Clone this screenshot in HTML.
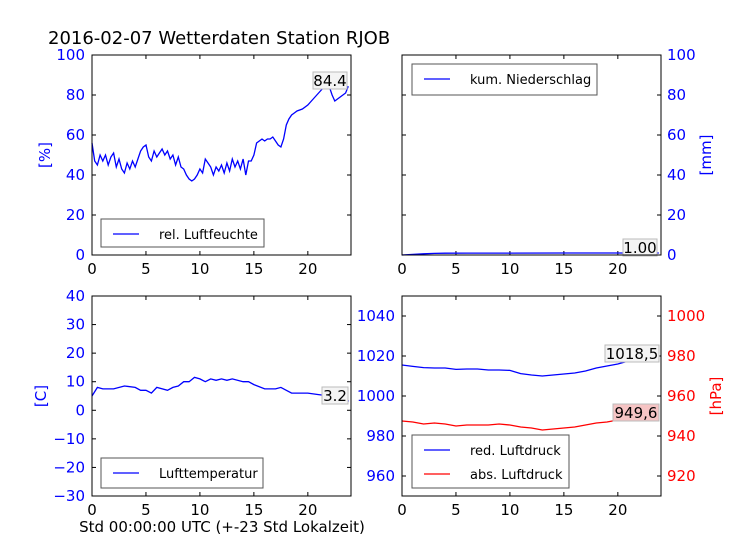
<!DOCTYPE html>
<html><head><meta charset="utf-8"><style>
body{margin:0;background:#fff}
svg{display:block;font-family:"DejaVu Sans","Liberation Sans",sans-serif}
</style></head><body>
<svg id="fig" width="736" height="552" viewBox="0 0 736 552">
<text x="48" y="44" font-size="18" fill="#000">2016-02-07 Wetterdaten Station RJOB</text>
<text x="222" y="532" font-size="15" text-anchor="middle">Std 00:00:00 UTC (+-23 Std Lokalzeit)</text>
</svg>
<script>
const humHours=[0,0.25,0.5,0.75,1,1.25,1.5,1.75,2,2.25,2.5,2.75,3,3.25,3.5,3.75,4,4.25,4.5,4.75,5,5.25,5.5,5.75,6,6.25,6.5,6.75,7,7.25,7.5,7.75,8,8.25,8.5,8.75,9,9.25,9.5,9.75,10,10.25,10.5,10.75,11,11.25,11.5,11.75,12,12.25,12.5,12.75,13,13.25,13.5,13.75,14,14.25,14.5,14.75,15,15.25,15.5,15.75,16,16.25,16.5,16.75,17,17.25,17.5,17.75,18,18.25,18.5,18.75,19,19.5,20,20.5,21,21.5,22,22.25,22.5,23,23.5,23.75];
const humValues=[56,47,45,50,47,50,45,49,51,44,48,43,41,46,43,47,44,48,52,54,55,49,47,52,49,51,53,50,52,48,50,45,49,44,43,40,38,37,38,40,43,41,48,46,44,40,44,42,45,41,46,42,48,44,47,43,48,40,47,47,50,56,57,58,57,58,58,59,57,55,54,58,65,68,70,71,72,73,75,78,81,84,84,80,77,79,81,84.4];
const precHours=[0,1,2,3,4,6,10,15,20,23.8];
const precValues=[0,0.3,0.6,0.8,0.9,0.95,0.97,0.98,1.0,1.0];
const tempHours=[0,0.5,1,2,3,4,4.5,5,5.5,6,7,7.5,8,8.5,9,9.5,10,10.5,11,11.5,12,12.5,13,14,14.5,15,16,17,17.5,18,18.5,19,20,21,22,23,23.8];
const tempValues=[5,8,7.5,7.5,8.5,8,7,7,6,8,7,8,8.5,10,10,11.5,11,10,11,10.5,11,10.5,11,10,10,9,7.5,7.5,8,7,6,6,6,5.5,5,4,3.2];
const presHours=[0,1,2,3,4,5,6,7,8,9,10,11,12,13,14,15,16,17,18,19,20,21,22,23,23.8];
const redPres=[1015.5,1014.8,1014.2,1014,1014,1013.3,1013.5,1013.5,1013,1013,1012.8,1011.2,1010.5,1010,1010.5,1011,1011.5,1012.5,1014,1015,1016,1017.5,1018,1018.5,1018.5];
const absPres=[947.5,947,946,946.5,946,945,945.5,945.5,945.5,946,945.5,944.5,944,943,943.5,944,944.5,945.5,946.5,947,948,949,949.5,949.6,949.6];
const xTicks=[0,5,10,15,20];
const humTicks=[0,20,40,60,80,100];
const precTicks=[0,20,40,60,80,100];
const tempTicks=[-30,-20,-10,0,10,20,30,40];
const redTicks=[960,980,1000,1020,1040];
const absTicks=[920,940,960,980,1000];

const NS="http://www.w3.org/2000/svg";
const svg=document.getElementById('fig');
function el(tag,attrs,parent){const e=document.createElementNS(NS,tag);for(const k in attrs)e.setAttribute(k,attrs[k]);(parent||svg).appendChild(e);return e;}
function txt(s,attrs,parent){const e=el('text',attrs,parent);e.textContent=s;return e;}

function panel(name,x0,y0,w,h,xmax){
  const g=el('g',{});
  
  
  const xs=v=>x0+v/xmax*w;
  xTicks.forEach(t=>{
    el('line',{x1:xs(t),x2:xs(t),y1:y0+h,y2:y0+h-4,stroke:'#000'},g);
    el('line',{x1:xs(t),x2:xs(t),y1:y0,y2:y0+4,stroke:'#000'},g);
    const l=txt(String(t),{x:xs(t),y:y0+h+19,'font-size':15,'text-anchor':'middle'},g);
    
    
  });
  return {g,xs,x0,y0,w,h};
}
function yaxis(p,min,max,ticks,side,color,labels){
  const ys=v=>p.y0+p.h-(v-min)/(max-min)*p.h;
  ticks.forEach(t=>{
    const xl=side==='left'?p.x0:p.x0+p.w;
    const d=side==='left'?4:-4;
    el('line',{x1:xl,x2:xl+d,y1:ys(t),y2:ys(t),stroke:'#000'},p.g);
    if(labels){
      const l=txt(String(t).replace('-','\u2212'),{x:side==='left'?xl-7:xl+6,y:ys(t)+5,'font-size':15,fill:color,'text-anchor':side==='left'?'end':'start'},p.g);
      
      
    }
  });
  return ys;
}
function line(p,xsArr,ysArr,xs,ys,color,name){
  const d=xsArr.map((h,i)=>(i?'L':'M')+xs(h).toFixed(1)+' '+ys(ysArr[i]).toFixed(1)).join('');
  const e=el('path',{d,fill:'none',stroke:color,'stroke-width':1.3},p.g);
  
  
}
function frame(p){el('rect',{x:p.x0,y:p.y0,width:p.w,height:p.h,fill:'none',stroke:'#000'},p.g);}
function legend(p,x,y,w,h,items,name){
  const g=el('g',{},p.g);
  
  
  el('rect',{x,y,width:w,height:h,fill:'#fff',stroke:'#555'},g);
  items.forEach((it,i)=>{
    const yy=y+15+i*24;
    el('line',{x1:x+12,x2:x+38,y1:yy,y2:yy,stroke:it[1],'stroke-width':1.3},g);
    txt(it[0],{x:x+58,y:yy+5,'font-size':13},g);
  });
}
function annot(p,s,x,y,w,bg,name){
  const g=el('g',{},p.g);
  
  
  el('rect',{x,y,width:w,height:17,fill:bg,stroke:'#bbb'},g);
  txt(s,{x:x+w/2,y:y+14,'font-size':15,'text-anchor':'middle'},g);
}
function ylabel(s,x,y,color,name){
  const t=txt(s,{x,y,'font-size':15,fill:color,'text-anchor':'middle',transform:`rotate(-90 ${x} ${y})`});
  
  
}

let p=panel('humidity-panel',92,55,259,200,24);
let ys=yaxis(p,0,100,humTicks,'left','#0000ff',true);
yaxis(p,0,100,humTicks,'right','#000',false);
line(p,humHours,humValues,p.xs,ys,'#0000ff','humidity-line');
legend(p,101,219,163,28,[['rel. Luftfeuchte','#0000ff']],'humidity-legend');
annot(p,'84.4',313,72,34,'#f4f4f4','humidity-last-value');
frame(p);
ylabel('[%]',50,155,'#0000ff','humidity-y-title');

p=panel('precipitation-panel',402,55,259,200,24);
yaxis(p,0,100,precTicks,'left','#000',false);
ys=yaxis(p,0,100,precTicks,'right','#0000ff',true);
line(p,precHours,precValues,p.xs,ys,'#0000ff','precipitation-line');
legend(p,412,64,185,31,[['kum. Niederschlag','#0000ff']],'precipitation-legend');
annot(p,'1.00',623,239,34,'#f4f4f4','precipitation-last-value');
frame(p);
ylabel('[mm]',711,155,'#0000ff','precipitation-y-title');

p=panel('temperature-panel',92,296,259,200,24);
ys=yaxis(p,-30,40,tempTicks,'left','#0000ff',true);
yaxis(p,-30,40,tempTicks,'right','#000',false);
line(p,tempHours,tempValues,p.xs,ys,'#0000ff','temperature-line');
legend(p,101,458,162,30,[['Lufttemperatur','#0000ff']],'temperature-legend');
annot(p,'3.2',322,387,26,'#f4f4f4','temperature-last-value');
frame(p);
ylabel('[C]',46,396,'#0000ff','temperature-y-title');

p=panel('pressure-panel',402,296,259,200,24);
ys=yaxis(p,950,1050,redTicks,'left','#0000ff',true);
const ys2=yaxis(p,910,1010,absTicks,'right','#ff0000',true);
line(p,presHours,redPres,p.xs,ys,'#0000ff','red-pressure-line');
line(p,presHours,absPres,p.xs,ys2,'#ff0000','abs-pressure-line');
legend(p,412,435,157,53,[['red. Luftdruck','#0000ff'],['abs. Luftdruck','#ff0000']],'pressure-legend');
annot(p,'1018,5',605,345,54,'#f4f4f4','red-pressure-last-value');
annot(p,'949,6',613,404,46,'#f6c4c4','abs-pressure-last-value');
frame(p);
ylabel('[hPa]',721,396,'#ff0000','pressure-y-title');
</script>
</body></html>
